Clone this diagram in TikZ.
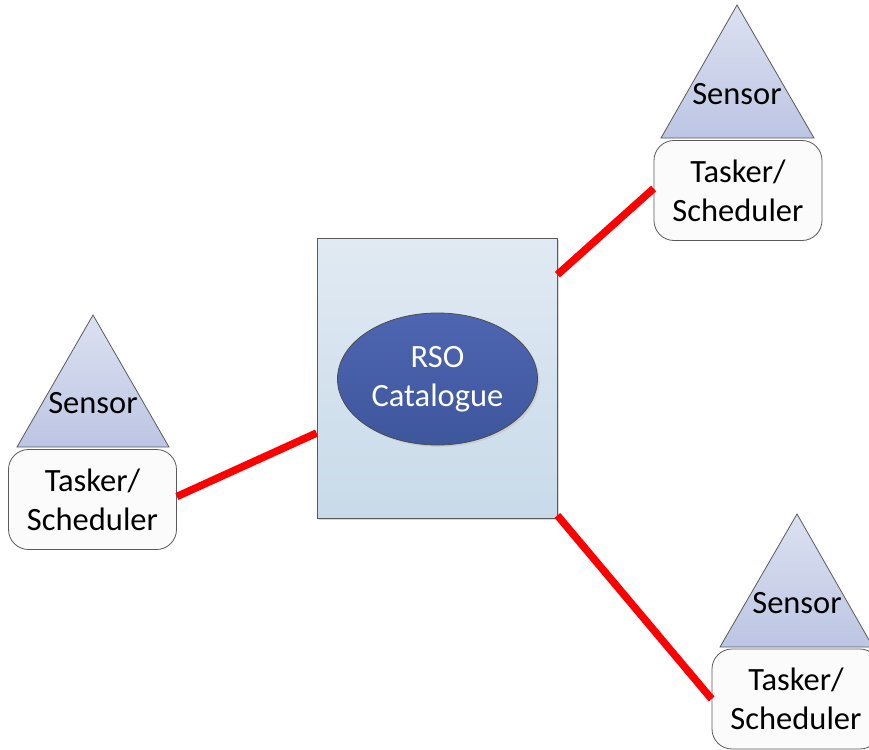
\documentclass[tikz,border=0pt]{standalone}
\usepackage{fontspec}
\setmainfont{Carlito}
\usetikzlibrary{calc,shadows,shapes.geometric}
\definecolor{triTop}{HTML}{DCE1F1}
\definecolor{triBot}{HTML}{BCC5E3}
\definecolor{recTop}{HTML}{E1EAF3}
\definecolor{recBot}{HTML}{C8DAE9}
\definecolor{ellTop}{HTML}{4E66B1}
\definecolor{ellBot}{HTML}{3D569C}
\definecolor{edge}{HTML}{5A5A5A}
\definecolor{link}{HTML}{FF0000}
\tikzset{
  lbl/.style={font=\fontsize{32.5}{39}\selectfont, inner sep=0pt, align=center},
  tri/.style={draw=edge, line width=0.8pt, top color=triTop, bottom color=triBot},
  taskbox/.style={draw=edge, line width=0.8pt, fill=white!97!gray, rounded corners=20pt,
    minimum width=168pt, minimum height=100pt, inner sep=0pt, align=center,
    font=\fontsize{32.5}{39}\selectfont},
  catbox/.style={draw=edge, line width=0.8pt, top color=recTop, bottom color=recBot,
    minimum width=240pt, minimum height=280pt, inner sep=0pt,
    drop shadow={shadow xshift=2pt, shadow yshift=-2pt, fill=black!25, opacity=0.6}},
  catell/.style={ellipse, draw=black!70, line width=0.8pt, top color=ellTop, bottom color=ellBot,
    minimum width=200pt, minimum height=132pt, inner sep=0pt, align=center, text=white,
    font=\fontsize{32.5}{39}\selectfont,
    drop shadow={shadow xshift=2pt, shadow yshift=-2pt, fill=black!25, opacity=0.5}},
  linkline/.style={draw=link, line width=7.5pt,
    preaction={draw=black!10, transform canvas={shift={(1.5pt,-2pt)}}}}
}
\begin{document}
\begin{tikzpicture}[x=1pt,y=-1pt]
\useasboundingbox (0,0) rectangle (869,749);
\clip (0,0) rectangle (869,749);
% central catalogue
\node[catbox] (cat) at (437,378) {};
\node[catell] (rso) at (437.5,379) {RSO\\Catalogue};
% left group
\path[tri] (93,315) -- (169,447) -- (17,447) -- cycle;
\node[lbl] (lsen) at (93,403) {Sensor};
\node[taskbox] (lbox) at (92.5,499.5) {Tasker/\\Scheduler};
% top right group
\path[tri] (737,5) -- (814,138) -- (661,138) -- cycle;
\node[lbl] (tsen) at (737,94) {Sensor};
\node[taskbox] (tbox) at (738,190.5) {Tasker/\\Scheduler};
% bottom right group
\path[tri] (797,514) -- (873,647) -- (720,647) -- cycle;
\node[lbl] (bsen) at (797,603) {Sensor};
\node[taskbox] (bbox) at (796,699) {Tasker/\\Scheduler};
% links
\draw[linkline] ($(lbox.east)+(0,-3)$) -- ($(cat.south west)!0.304!(cat.north west)$);
\draw[linkline] ($(cat.south east)!0.868!(cat.north east)$) -- ($(tbox.west)+(0,-2)$);
\draw[linkline] ($(cat.south east)+(0,-3)$) -- (bbox.west);
\end{tikzpicture}
\end{document}
